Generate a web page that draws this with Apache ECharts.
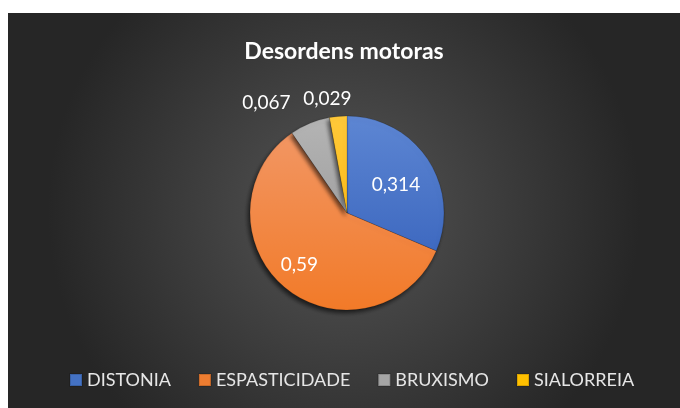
<!DOCTYPE html>
<html>
<head>
<meta charset="utf-8">
<script src="https://cdn.jsdelivr.net/npm/echarts@6/dist/echarts.min.js"></script>
<style>
  html, body { margin: 0; padding: 0; background: #fff; }
  #chart { position: absolute; left: 8px; top: 13px; width: 672px; height: 395px; }
</style>
</head>
<body>
<div id="chart"></div>
<script>
// dados do gráfico
var categorias = ['DISTONIA', 'ESPASTICIDADE', 'BRUXISMO', 'SIALORREIA'];
var valores = [0.314, 0.59, 0.067, 0.029];
var rotulos = ['0,314', '0,59', '0,067', '0,029'];

(function () {
  // cores de cada fatia (topo -> base)
  var cores = [
    ['#5d86d3', '#3e69c0'],
    ['#f29663', '#f27a28'],
    ['#b4b4b4', '#a2a2a2'],
    ['#ffc93a', '#fdbd1a']
  ];
  var legendColors = ['#4472c4', '#ed7d31', '#a5a5a5', '#ffc000'];
  // deslocamento dos rótulos (estilo "melhor ajuste" do Excel)
  var desloc = [[6, 0], [-15, 12], [-12, -15], [19, -12]];

  var dados = categorias.map(function (nome, i) {
    var dentro = i < 2;
    return {
      name: nome,
      value: valores[i],
      itemStyle: {
        color: {
          type: 'linear', x: 0, y: 0, x2: 0, y2: 1,
          colorStops: [{ offset: 0, color: cores[i][0] }, { offset: 1, color: cores[i][1] }]
        }
      },
      label: {
        position: dentro ? 'inside' : 'outside',
        formatter: rotulos[i]
      },
      labelLine: { show: false, length: 6, length2: 0 }
    };
  });

  var option = {
    backgroundColor: {
      type: 'radial', x: 0.5, y: 0.5, r: 0.75,
      colorStops: [
        { offset: 0, color: '#555555' },
        { offset: 1, color: '#262626' }
      ]
    },
    title: {
      text: 'Desordens motoras',
      left: 'center',
      top: 22,
      textStyle: { color: '#ffffff', fontFamily: 'Lato', fontWeight: 'bold', fontSize: 23 }
    },
    legend: {
      bottom: 14,
      left: 56,
      itemWidth: 12,
      itemHeight: 12,
      itemGap: 27,
      icon: 'rect',
      data: categorias.map(function (c, i) {
        return { name: c, itemStyle: { color: legendColors[i] } };
      }),
      textStyle: { color: '#e6e6e6', fontFamily: 'Lato', fontSize: 18 }
    },
    series: [{
      type: 'pie',
      center: [339, 200],
      radius: 97,
      startAngle: 90,
      clockwise: true,
      avoidLabelOverlap: false,
      label: { color: '#ffffff', fontFamily: 'Lato', fontSize: 19 },
      labelLayout: function (p) {
        return { dx: desloc[p.dataIndex][0], dy: desloc[p.dataIndex][1], hideOverlap: false };
      },
      itemStyle: {
        borderColor: 'rgba(0,0,0,0.15)',
        borderWidth: 0.5,
        shadowBlur: 4,
        shadowOffsetX: -2,
        shadowOffsetY: 3,
        shadowColor: 'rgba(0,0,0,0.6)'
      },
      emphasis: { scale: false },
      data: dados
    }]
  };

  var myChart = echarts.init(document.getElementById('chart'));
  myChart.setOption(option);
})();
</script>
</body>
</html>
